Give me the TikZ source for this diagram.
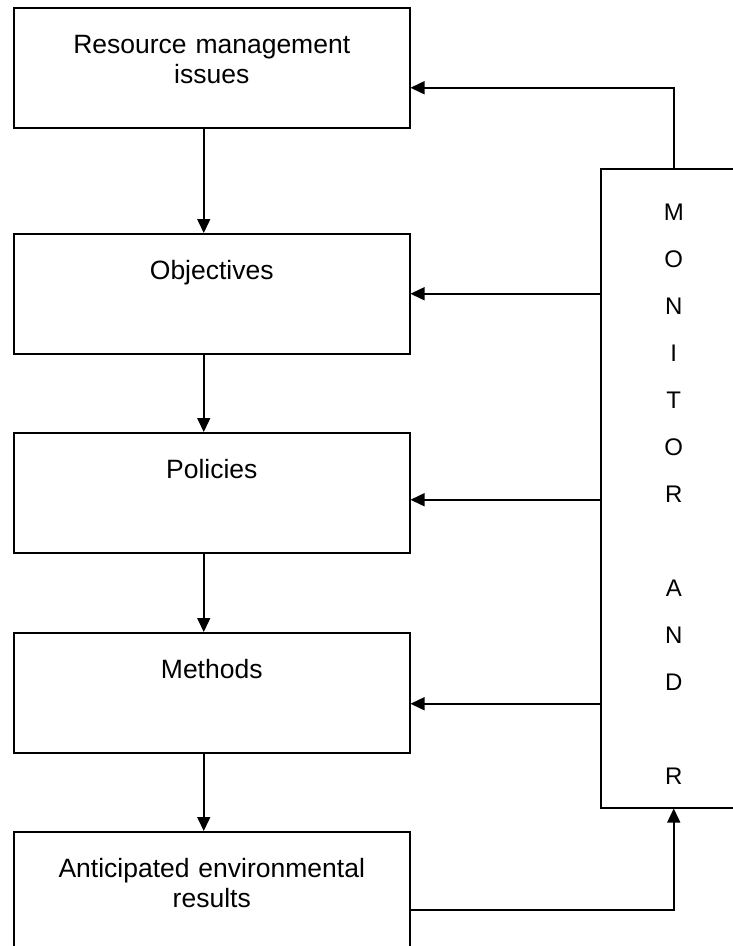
\documentclass[tikz,border=0pt]{standalone}
\usepackage{fontspec}
\setmainfont{Liberation Sans}
\usetikzlibrary{arrows.meta}

\begin{document}
\begin{tikzpicture}[x=1pt,y=-1pt,
	box/.style={draw,line width=1.5pt,minimum width=396pt,minimum height=120pt,anchor=north west,inner sep=0pt,text width=396pt,align=center,font=\fontsize{26.5}{30}\selectfont,text height=19pt,text depth=47pt},
	flow/.style={line width=1.5pt,-{Triangle[length=14pt,width=13pt]}}]
	\useasboundingbox (0,0) rectangle (732,946);
	\node[box] (issues) at (13,7) {Resource management\\issues};
	\node[box] (obj) at (13,233) {Objectives};
	\node[box] (pol) at (13,432) {Policies};
	\node[box] (meth) at (13,632) {Methods};
	\node[box] (res) at (13,831) {Anticipated environmental\\results};
	\node[draw,line width=1.5pt,anchor=north west,minimum width=146pt,minimum height=639pt,inner sep=0pt,text width=146pt,align=center,font=\fontsize{24}{47}\selectfont,text height=17pt,text depth=552pt] (mon) at (600,168) {M\\O\\N\\I\\T\\O\\R\\[47pt]A\\N\\D\\[47pt]R};
	\draw[flow] ([xshift=-8pt]issues.south) -- ([xshift=-8pt]obj.north);
	\draw[flow] ([xshift=-8pt]obj.south) -- ([xshift=-8pt]pol.north);
	\draw[flow] ([xshift=-8pt]pol.south) -- ([xshift=-8pt]meth.north);
	\draw[flow] ([xshift=-8pt]meth.south) -- ([xshift=-8pt]res.north);
	\draw[flow] (mon.north) |- ([yshift=-20pt]issues.east);
	\draw[flow] (mon.west |- obj.east) -- (obj.east);
	\draw[flow] ([yshift=-7pt]mon.west |- pol.east) -- ([yshift=-7pt]pol.east);
	\draw[flow] ([yshift=-11pt]mon.west |- meth.east) -- ([yshift=-11pt]meth.east);
	\draw[flow] ([yshift=-18pt]res.east) -| (mon.south);
\end{tikzpicture}
\end{document}
